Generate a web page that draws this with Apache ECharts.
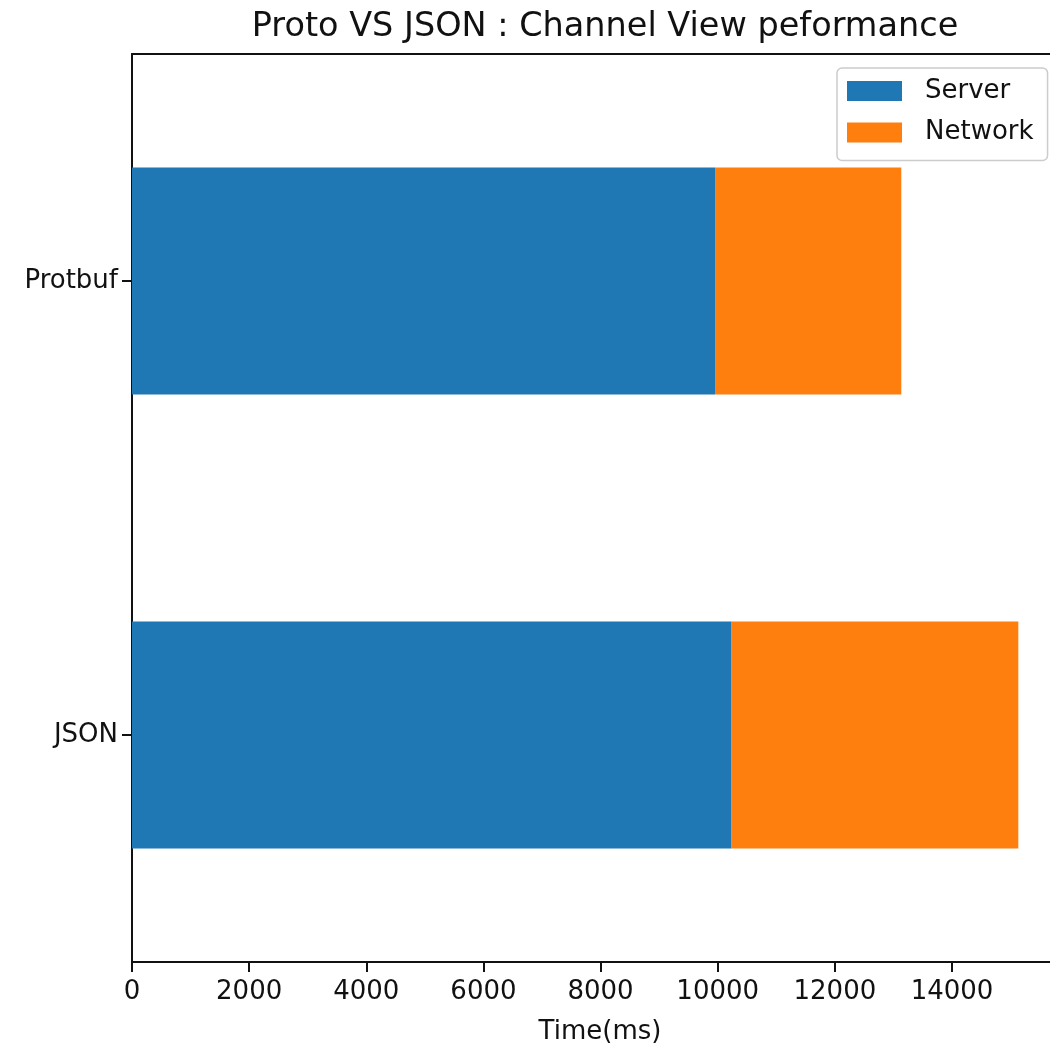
<!DOCTYPE html>
<html>
<head>
<meta charset="utf-8">
<script src="https://cdn.jsdelivr.net/npm/echarts@6/dist/echarts.min.js"></script>
<style>html,body{margin:0;padding:0;background:#fff;}#c{width:1050px;height:1050px;}</style>
</head>
<body>
<div id="c"></div>
<script>
const categories = ['JSON', 'Protbuf'];
const serverValues = [10237, 9954];
const networkValues = [4895, 3180];
const xTicks = [0, 2000, 4000, 6000, 8000, 10000, 12000, 14000];

const FONT = 'DejaVu Sans';
const TXT = '#111';
const X_MAX = 15673;
const chart = echarts.init(document.getElementById('c'));
chart.setOption({
  animation: false,
  backgroundColor: '#fff',
  title: {
    text: 'Proto VS JSON : Channel View peformance',
    left: 600, textAlign: 'center', top: 5,
    textStyle: { fontFamily: FONT, fontSize: 33.5, fontWeight: 'normal', color: TXT }
  },
  legend: {
    orient: 'vertical', left: 837, top: 68,
    padding: [10, 14, 15, 10], itemGap: 15.5,
    itemWidth: 55, itemHeight: 20, icon: 'rect',
    backgroundColor: '#fff', borderColor: '#cccccc', borderWidth: 1.5, borderRadius: 5,
    textStyle: { fontFamily: FONT, fontSize: 26, color: TXT, padding: [0, 0, 0, 18] },
    data: ['Server', 'Network']
  },
  grid: { left: 132, right: 0, top: 54, bottom: 86 },
  xAxis: [{
    type: 'value', min: 0, max: X_MAX, interval: 2000,
    name: 'Time(ms)', nameLocation: 'middle', nameGap: 57,
    nameTextStyle: { fontFamily: FONT, fontSize: 26, color: TXT, padding: [0, 0, 0, 18] },
    axisLine: { show: true, lineStyle: { color: '#111', width: 2 } },
    axisTick: { show: true, length: 10, lineStyle: { color: '#111', width: 2 } },
    axisLabel: {
      fontFamily: FONT, fontSize: 26, color: TXT, margin: 17, showMaxLabel: false,
      formatter: v => (xTicks.indexOf(v) >= 0 ? String(v) : '')
    },
    splitLine: { show: false }
  }, {
    type: 'value', position: 'top', min: 0, max: X_MAX,
    axisLine: { show: true, lineStyle: { color: '#111', width: 2 } },
    axisTick: { show: false }, axisLabel: { show: false }, splitLine: { show: false }
  }],
  yAxis: {
    type: 'category', data: categories,
    axisLine: { show: true, lineStyle: { color: '#111', width: 2 } },
    axisTick: { show: true, length: 10, alignWithLabel: true, lineStyle: { color: '#111', width: 2 } },
    axisLabel: { fontFamily: FONT, fontSize: 26, color: TXT, margin: 14 },
    splitLine: { show: false }
  },
  series: [
    { name: 'Server', type: 'bar', stack: 'total', barWidth: '50%', data: serverValues,
      itemStyle: { color: '#1f77b4' } },
    { name: 'Network', type: 'bar', stack: 'total', barWidth: '50%', data: networkValues,
      itemStyle: { color: '#ff7f0e' } }
  ]
});
</script>
</body>
</html>
